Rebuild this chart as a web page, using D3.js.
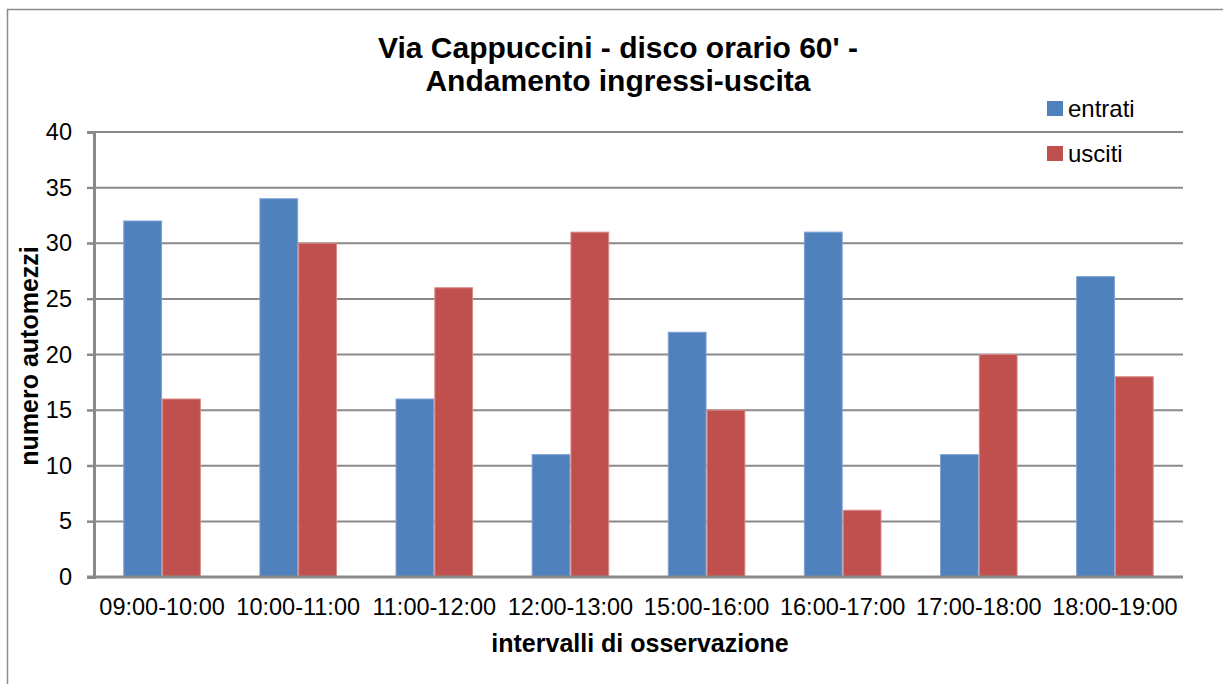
<!DOCTYPE html>
<html>
<head>
<meta charset="utf-8">
<script src="https://cdn.jsdelivr.net/npm/d3@7"></script>
<style>
  body { margin: 0; background: #fff; }
  svg { display: block; font-family: "Liberation Sans", Arial, sans-serif; }
</style>
</head>
<body>
<svg width="1223" height="684"></svg>
<script>
// data
var categories = ["09:00-10:00", "10:00-11:00", "11:00-12:00", "12:00-13:00", "15:00-16:00", "16:00-17:00", "17:00-18:00", "18:00-19:00"];
var entrati = [32, 34, 16, 11, 22, 31, 11, 27];
var usciti = [16, 30, 26, 31, 15, 6, 20, 18];
var seriesNames = ["entrati", "usciti"];
var yTicks = [0, 5, 10, 15, 20, 25, 30, 35, 40];

var colors = { entrati: "#4F81BD", usciti: "#C0504D" };
var edges = { entrati: "#7FA3D3", usciti: "#D98A88" };
var fontFam = "Liberation Sans, Arial, sans-serif";

// plot box (note: "top" is taken by window.top, so prefixed names)
var svg = d3.select("svg"),
	plotLeft = 94,
	plotRight = 1183,
	plotTop = 132,
	plotBottom = 577;

// outer chart frame, runs past the picture edges
svg.append("rect")
	.attr("x", 7.5).attr("y", 9.5)
	.attr("width", 1240).attr("height", 700)
	.attr("fill", "none").attr("stroke", "#8c8c8c").attr("stroke-width", 1.5);

var x0 = d3.scaleBand()
	.domain(categories)
	.range([plotLeft, plotRight])
	.paddingInner(0.43)
	.paddingOuter(0.215);

var x1 = d3.scaleBand()
	.domain(seriesNames)
	.range([0, x0.bandwidth()]);

var y = d3.scaleLinear()
	.domain([0, 40])
	.range([plotBottom, plotTop]);

// gridlines
svg.append("g").selectAll("line")
	.data(yTicks.filter(function (d) { return d > 0; }))
	.enter().append("line")
	.attr("x1", 87).attr("x2", plotRight)
	.attr("y1", function (d) { return y(d); })
	.attr("y2", function (d) { return y(d); })
	.attr("stroke", "#8a8a8a").attr("stroke-width", 2);

// bars
var rows = categories.map(function (c, i) {
	return { cat: c, values: [{ key: "entrati", v: entrati[i] }, { key: "usciti", v: usciti[i] }] };
});

var group = svg.append("g").selectAll("g")
	.data(rows)
	.enter().append("g")
	.attr("transform", function (d) { return "translate(" + x0(d.cat) + ",0)"; });

group.selectAll("rect")
	.data(function (d) { return d.values; })
	.enter().append("rect")
	.attr("x", function (d) { return x1(d.key) + 0.5; })
	.attr("y", function (d) { return y(d.v); })
	.attr("width", x1.bandwidth() - 1)
	.attr("height", function (d) { return y(0) - y(d.v); })
	.attr("fill", function (d) { return colors[d.key]; })
	.attr("stroke", function (d) { return edges[d.key]; })
	.attr("stroke-width", 1);

// y axis
var yAxis = svg.append("g")
	.attr("transform", "translate(" + plotLeft + ",0)")
	.call(d3.axisLeft(y).tickValues(yTicks).tickSize(7).tickPadding(15));
yAxis.select(".domain").attr("stroke", "#8a8a8a").attr("stroke-width", 3);
yAxis.selectAll(".tick line").attr("stroke", "#8a8a8a").attr("stroke-width", 2);
yAxis.selectAll(".tick text")
	.attr("font-size", 23.5).attr("fill", "#000")
	.attr("font-family", fontFam);

// x axis
var xAxis = svg.append("g")
	.attr("transform", "translate(0," + y(0) + ")")
	.call(d3.axisBottom(x0).tickSize(0).tickPadding(21));
xAxis.select(".domain").attr("d", "M87,0H" + plotRight).attr("stroke", "#8a8a8a").attr("stroke-width", 3);
xAxis.selectAll(".tick text")
	.attr("font-size", 23.5).attr("fill", "#000")
	.attr("font-family", fontFam);

// titles
var title = svg.append("text")
	.attr("text-anchor", "middle")
	.attr("font-weight", "bold").attr("font-size", 30);
title.append("tspan").attr("x", 618).attr("y", 58).text("Via Cappuccini - disco orario 60' -");
title.append("tspan").attr("x", 618).attr("y", 91).text("Andamento ingressi-uscita");

svg.append("text")
	.attr("x", 640).attr("y", 652)
	.attr("text-anchor", "middle")
	.attr("font-weight", "bold").attr("font-size", 25)
	.text("intervalli di osservazione");

svg.append("text")
	.attr("transform", "translate(38,356) rotate(-90)")
	.attr("text-anchor", "middle")
	.attr("font-weight", "bold").attr("font-size", 25)
	.text("numero automezzi");

// legend
var legend = svg.append("g").selectAll("g")
	.data(seriesNames)
	.enter().append("g")
	.attr("transform", function (d, i) { return "translate(1047," + (101 + i * 45) + ")"; });

legend.append("rect")
	.attr("width", 16).attr("height", 15)
	.attr("fill", function (d) { return colors[d]; });

legend.append("text")
	.attr("x", 21).attr("y", 16)
	.attr("font-size", 24)
	.text(function (d) { return d; });
</script>
</body>
</html>
